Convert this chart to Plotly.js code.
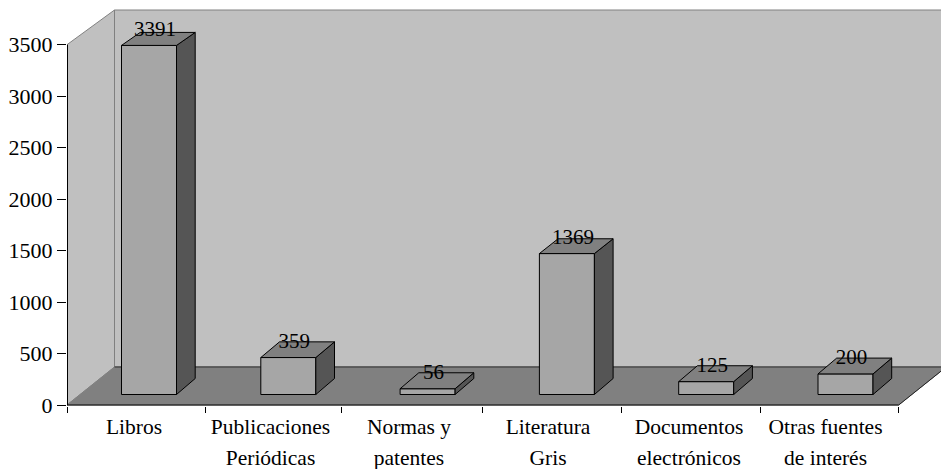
<!DOCTYPE html>
<html>
<head>
<meta charset="utf-8">
<script src="https://cdn.plot.ly/plotly-3.0.1.min.js"></script>
<style>html,body{margin:0;padding:0;background:#fff}#c{width:941px;height:469px}</style>
</head>
<body>
<div id="c"></div>
<script>
const categories = ['Libros', 'Publicaciones<br>Periódicas', 'Normas y<br>patentes', 'Literatura<br>Gris', 'Documentos<br>electrónicos', 'Otras fuentes<br>de interés'];
const values = [3391, 359, 56, 1369, 125, 200];
const yTicks = [0, 500, 1000, 1500, 2000, 2500, 3000, 3500];

// axis scale: one category step = 139.3 px, 3500 units = 360.3 px
const stepPx = 139.3, unitPx = 360.3 / 3500;
const firstBarPx = 149, axisLeftPx = 67, plotRightPx = 941, zeroPx = 405, plotH = 406;
const X = px => (px - firstBarPx) / stepPx;      // pixel column to category position
const DX = px => px / stepPx;
const DY = px => px / unitPx;

const boundaryPx = [67, 205.5, 341.5, 482.5, 621.5, 760.5, 898.7];
const labelPx = [134, 270.5, 409, 548, 689, 825.5];

const barW = DX(55), barDx = DX(18.7);
const floorBase = DY(10.5);
const topDepth = v => DY(16 - 3 * v / 3391), bottomDepth = DY(16);
const wallDx = DX(47.5), wallDy = DY(38), wallTop = DY(395);
const xL = X(axisLeftPx), xR = X(boundaryPx[6]);

const poly = (pts, fill, color) => ({
  type: 'path', xref: 'x', yref: 'y', layer: 'below',
  path: 'M' + pts.map(p => p.join(',')).join('L') + 'Z',
  fillcolor: fill, line: {color: color || fill, width: 1}
});
const seg = (x0, y0, x1, y1, color) => ({
  type: 'line', xref: 'x', yref: 'y', layer: 'below',
  x0, y0, x1, y1, line: {color, width: 1}
});

const shapes = [
  poly([[xL + wallDx, wallDy], [xR + wallDx, wallDy], [xR + wallDx, wallTop], [xL + wallDx, wallTop]], '#c0c0c0', '#808080'),
  poly([[xL, 0], [xL + wallDx, wallDy], [xL + wallDx, wallTop], [xL, 3500]], '#c0c0c0', '#808080'),
  poly([[xL, 0], [xR, 0], [xR + wallDx, wallDy], [xL + wallDx, wallDy]], '#808080', '#808080'),
  seg(xL + wallDx, wallDy, xR + wallDx, wallDy, '#303030'),
  seg(xR, 0, xR + wallDx, wallDy, '#202020'),
  seg(X(67.5), 0, X(67.5), 3500, '#000'),
  seg(xL, 0, xR, 0, '#000')
];

const sideX = [], sideY = [], topX = [], topY = [];
values.forEach((v, i) => {
  const l = i - barW / 2, r = i + barW / 2, t = v + floorBase, d = topDepth(v);
  sideX.push(r, r + barDx, r + barDx, r, r, null);
  sideY.push(t, t + d, floorBase + bottomDepth, floorBase, t, null);
  topX.push(l, r, r + barDx, l + barDx, l, null);
  topY.push(t, t, t + d, t + d, t, null);
});

const traces = [
  {type: 'bar', x: values.map((_, i) => i), y: values, base: floorBase, width: barW,
   marker: {color: '#a6a6a6', line: {color: '#000', width: 1}}, hoverinfo: 'skip'},
  {type: 'scatter', mode: 'lines', x: sideX, y: sideY, fill: 'toself', fillcolor: '#555555',
   line: {color: '#000', width: 1}, hoverinfo: 'skip'},
  {type: 'scatter', mode: 'lines', x: topX, y: topY, fill: 'toself', fillcolor: '#808080',
   line: {color: '#000', width: 1}, hoverinfo: 'skip'},
  {type: 'scatter', mode: 'text', x: values.map((_, i) => i + DX(6)),
   y: values.map(v => v + floorBase + DY(15)), text: values.map(String),
   textposition: 'middle center', textfont: {family: 'Liberation Serif', size: 21, color: '#000'},
   hoverinfo: 'skip', cliponaxis: false}
];

const layout = {
  width: 941, height: 469, showlegend: false, barmode: 'overlay',
  margin: {l: axisLeftPx, r: 0, t: 0, b: 469 - plotH, pad: 0},
  paper_bgcolor: '#fff', plot_bgcolor: '#fff',
  font: {family: 'Liberation Serif', size: 21, color: '#000'},
  shapes,
  xaxis: {
    type: 'linear', range: [X(axisLeftPx), X(plotRightPx)], showgrid: false, zeroline: false, showline: false,
    tickmode: 'array', tickvals: labelPx.map(X),
    // outer size sets the 31px line gap, inner span sets the glyph size
    ticktext: categories.map(c => '<span style="font-size:21.5px">' + c + '</span>'),
    tickfont: {family: 'Liberation Serif', size: 24, color: '#000'},
    ticks: '', ticklabelstandoff: 3,
    minor: {tickmode: 'array', tickvals: boundaryPx.map(X), ticks: 'outside', ticklen: 6, tickwidth: 1, tickcolor: '#000', showgrid: false}
  },
  yaxis: {
    type: 'linear', range: [DY(zeroPx - plotH), DY(zeroPx)], showgrid: false, zeroline: false, showline: false,
    tickmode: 'array', tickvals: yTicks, ticks: 'outside', ticklen: 9, tickwidth: 1, tickcolor: '#000',
    tickfont: {family: 'Liberation Serif', size: 22, color: '#000'}
  }
};
Plotly.newPlot('c', traces, layout, {displayModeBar: false, staticPlot: true});
</script>
</body>
</html>
